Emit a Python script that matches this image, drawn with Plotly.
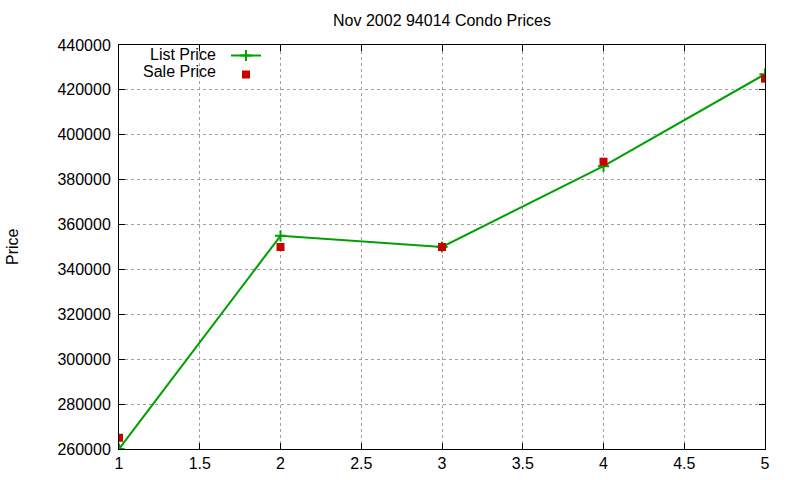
import plotly.graph_objects as go

x_vals = [1, 2, 3, 4, 5]
list_price = [260000, 355000, 350000, 386000, 427000]
sale_price = [265000, 350000, 350000, 388000, 425000]

title_text = "Nov 2002 94014 Condo Prices"
y_title = "Price"
list_label = "List Price"
sale_label = "Sale Price"

FONT = "Liberation Sans, Arial, sans-serif"
FS = 16
GREEN = "#00a000"
RED = "#cc0000"

L, R, T, B = 119, 35, 45, 31
W, H = 800, 480
pw, ph = W - L - R, H - T - B

fig = go.Figure()
fig.add_trace(go.Scatter(
    x=x_vals, y=list_price, mode="lines+markers", name=" ",
    line=dict(color=GREEN, width=2),
    marker=dict(symbol="cross-thin", size=8, line=dict(color=GREEN, width=2)),
))
fig.add_trace(go.Scatter(
    x=x_vals, y=sale_price, mode="markers", name=" ",
    marker=dict(symbol="square", size=8, color=RED),
))

axis_common = dict(
    showline=True, linecolor="black", linewidth=1, mirror="ticks",
    ticks="inside", ticklen=6, tickcolor="black",
    showgrid=True, gridcolor="#a0a0a0", griddash="dot", gridwidth=1,
    zeroline=False, automargin=False,
    tickfont=dict(family=FONT, size=FS, color="black"),
)

fig.update_xaxes(range=[1, 5], dtick=0.5, tick0=1, **axis_common)
fig.update_yaxes(range=[260000, 440000], dtick=20000, tick0=260000,
                 tickformat="d", ticklabelstandoff=4, **axis_common)

def px(xp):
    return (xp - L) / pw

def py(yp):
    return (H - B - yp) / ph

fig.update_layout(
    width=W, height=H,
    margin=dict(l=L, r=R, t=T, b=B),
    paper_bgcolor="white", plot_bgcolor="white",
    font=dict(family=FONT, size=FS, color="black"),
    title=dict(text=title_text, xref="paper", x=0.5, xanchor="center",
               yref="container", y=1 - 20 / H, yanchor="middle",
               font=dict(family=FONT, size=FS, color="black")),
    showlegend=True,
    legend=dict(x=px(226), y=py(41), xanchor="left", yanchor="top",
                bgcolor="rgba(0,0,0,0)", font=dict(family=FONT, size=10),
                tracegroupgap=0, itemwidth=30),
    annotations=[
        dict(text=y_title, xref="paper", yref="paper", x=-(L - 12) / pw, y=0.5,
             xanchor="center", yanchor="middle", textangle=-90, showarrow=False,
             font=dict(family=FONT, size=FS, color="black")),
        dict(text=list_label, xref="paper", yref="paper", x=px(218), y=py(54),
             xanchor="right", yanchor="middle", showarrow=False,
             font=dict(family=FONT, size=FS, color="black")),
        dict(text=sale_label, xref="paper", yref="paper", x=px(218), y=py(72),
             xanchor="right", yanchor="middle", showarrow=False,
             font=dict(family=FONT, size=FS, color="black")),
    ],
)

fig.write_html("out.html")
